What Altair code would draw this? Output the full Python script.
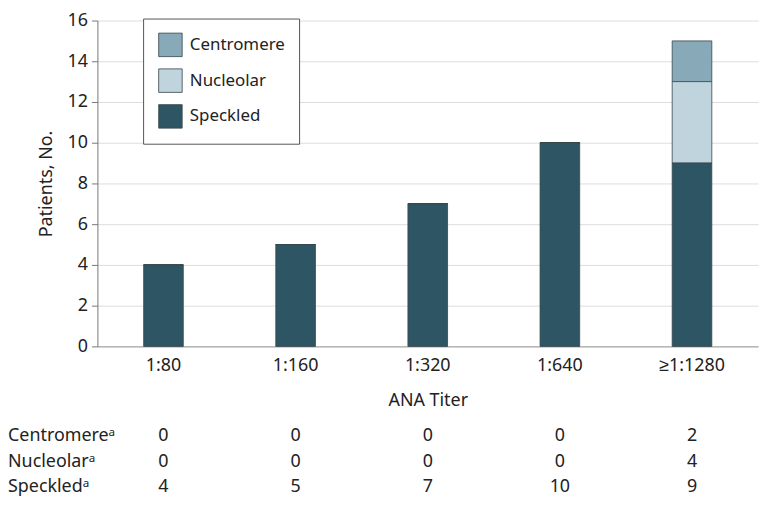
import altair as alt
import pandas as pd

titers = ["1:80", "1:160", "1:320", "1:640", "≥1:1280"]
centromere = [0, 0, 0, 0, 2]
nucleolar = [0, 0, 0, 0, 4]
speckled = [4, 5, 7, 10, 9]
patterns = ["Centromere", "Nucleolar", "Speckled"]
colors = ["#87A9B8", "#C0D4DE", "#2E5563"]
row_labels = ["Centromereᵃ", "Nucleolarᵃ", "Speckledᵃ"]

FONT = "Noto Sans, sans-serif"

series = {"Centromere": centromere, "Nucleolar": nucleolar, "Speckled": speckled}
stack_order = {"Speckled": 0, "Nucleolar": 1, "Centromere": 2}
rows = []
for p in patterns:
    for t, v in zip(titers, series[p]):
        rows.append({"titer": t, "pattern": p, "count": v, "ord": stack_order[p]})
df = pd.DataFrame(rows)

xscale = alt.Scale(domain=titers, paddingInner=0.7, paddingOuter=0.35)

bars = alt.Chart(df).mark_bar(stroke="#34454c", strokeWidth=0.8).encode(
    x=alt.X("titer:N", scale=xscale, sort=titers,
            axis=alt.Axis(title="ANA Titer", labelAngle=0, ticks=False, labelPadding=10,
                          titlePadding=18, domainColor="#999999", labelFontSize=18,
                          titleFontSize=18, grid=False)),
    y=alt.Y("count:Q", stack="zero", scale=alt.Scale(domain=[0, 16]),
            axis=alt.Axis(title="Patients, No.", values=list(range(0, 17, 2)), tickSize=6,
                          tickColor="#777777", domainColor="#777777", labelFontSize=18,
                          titleFontSize=18, titlePadding=12, labelPadding=4,
                          gridColor="#dddddd")),
    color=alt.Color("pattern:N", scale=alt.Scale(domain=patterns, range=colors),
                    legend=alt.Legend(title=None, orient="none", legendX=46, legendY=-2,
                                      symbolType="square", symbolSize=560,
                                      symbolStrokeColor="#34454c", symbolStrokeWidth=0.8,
                                      labelFontSize=17, rowPadding=9, padding=14,
                                      strokeColor="#555555", fillColor="white",
                                      symbolOffset=1, labelOffset=7)),
    order=alt.Order("ord:Q"),
)

layers = [bars]
row_y = [418, 444, 470]
for lab, p, yy in zip(row_labels, patterns, row_y):
    tdf = pd.DataFrame({"titer": titers, "count": series[p]})
    layers.append(
        alt.Chart(tdf).mark_text(fontSize=18, color="#222222", baseline="middle").encode(
            x=alt.X("titer:N", scale=xscale, sort=titers),
            y=alt.value(yy),
            text="count:Q",
        )
    )
    layers.append(
        alt.Chart(pd.DataFrame({"label": [lab]})).mark_text(
            fontSize=18, color="#222222", align="left", baseline="middle").encode(
            x=alt.value(-90), y=alt.value(yy), text="label:N")
    )

chart = alt.layer(*layers).properties(
    width=665, height=328,
    autosize=alt.AutoSizeParams(type="none"),
    padding={"left": 90, "top": 11, "right": 10, "bottom": 150},
).configure(font=FONT).configure_view(stroke=None).configure_axis(
    labelColor="#222222", titleColor="#222222", titleFontWeight="normal"
).configure_legend(labelColor="#222222")

chart.save("out.html", embed_options={"renderer": "svg", "actions": False})
